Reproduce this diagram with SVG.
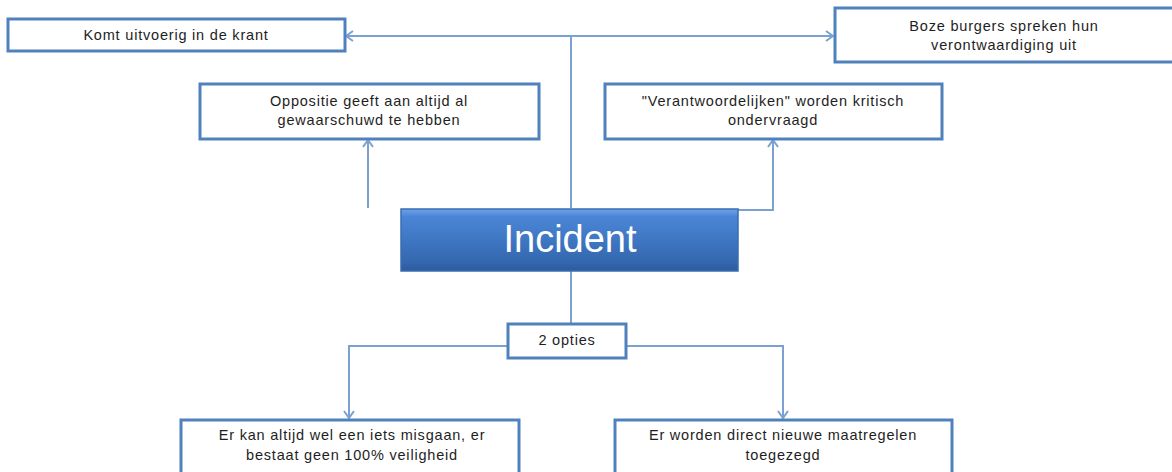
<svg xmlns="http://www.w3.org/2000/svg" width="1172" height="472" viewBox="0 0 1172 472">
  <defs>
    <style>
      .box { fill: #ffffff; stroke: #4f81bd; stroke-width: 3; }
      .t { font-family: "Liberation Sans", Arial, sans-serif; font-size: 14.5px; letter-spacing: 0.8px; fill: #1e1e1e; text-anchor: middle; }
      .conn { fill: none; stroke: #7ba1d2; stroke-width: 2; }
      .big { font-family: "Liberation Sans", Arial, sans-serif; font-size: 38px; fill: #ffffff; text-anchor: middle; }
    </style>
    <marker id="arr" markerWidth="14" markerHeight="14" refX="10" refY="7" orient="auto" markerUnits="userSpaceOnUse">
      <polyline points="3,2 10,7 3,12" fill="none" stroke="#7ba1d2" stroke-width="2"/>
    </marker>
    <linearGradient id="inc" x1="0" y1="0" x2="0" y2="1">
      <stop offset="0" stop-color="#6fa3ea"/>
      <stop offset="0.12" stop-color="#4a86d6"/>
      <stop offset="0.85" stop-color="#3468b0"/>
      <stop offset="1" stop-color="#2c5a9c"/>
    </linearGradient>
  </defs>

  <g id="connectors">
    <polyline class="conn" points="571,208 571,36 346,36" marker-end="url(#arr)"/>
    <polyline class="conn" points="571,36 833,36" marker-end="url(#arr)"/>
    <line class="conn" x1="368" y1="208" x2="368" y2="140" marker-end="url(#arr)"/>
    <polyline class="conn" points="738,210 773,210 773,140" marker-end="url(#arr)"/>
    <line class="conn" x1="571" y1="271" x2="571" y2="323"/>
    <polyline class="conn" points="507,346 349,346 349,418" marker-end="url(#arr)"/>
    <polyline class="conn" points="626,346 783,346 783,418" marker-end="url(#arr)"/>
  </g>

  <g id="n-krant">
    <rect class="box" x="8" y="19" width="337" height="32"/>
    <text class="t" x="176" y="40">Komt uitvoerig in de krant</text>
  </g>

  <g id="n-burgers">
    <rect class="box" x="835" y="8" width="342" height="54"/>
    <text class="t" x="1004" y="31">Boze burgers spreken hun</text>
    <text class="t" x="1004" y="50">verontwaardiging uit</text>
  </g>

  <g id="n-oppositie">
    <rect class="box" x="200" y="84" width="339" height="55"/>
    <text class="t" x="369" y="106">Oppositie geeft aan altijd al</text>
    <text class="t" x="369" y="125">gewaarschuwd te hebben</text>
  </g>

  <g id="n-verantwoordelijken">
    <rect class="box" x="605" y="84" width="337" height="55"/>
    <text class="t" x="773" y="106">"Verantwoordelijken" worden kritisch</text>
    <text class="t" x="773" y="125">ondervraagd</text>
  </g>

  <g id="n-incident">
    <rect x="401" y="209" width="337" height="62" fill="url(#inc)" stroke="#3a6db2" stroke-width="1.5"/>
    <text class="big" x="570" y="252">Incident</text>
  </g>

  <g id="n-opties">
    <rect class="box" x="508" y="324" width="118" height="34"/>
    <text class="t" x="567" y="345">2 opties</text>
  </g>

  <g id="n-misgaan">
    <rect class="box" x="181" y="420" width="338" height="56"/>
    <text class="t" x="352" y="440">Er kan altijd wel een iets misgaan, er</text>
    <text class="t" x="352" y="460">bestaat geen 100% veiligheid</text>
  </g>

  <g id="n-maatregelen">
    <rect class="box" x="615" y="420" width="337" height="56"/>
    <text class="t" x="783" y="440">Er worden direct nieuwe maatregelen</text>
    <text class="t" x="783" y="460">toegezegd</text>
  </g>
</svg>
